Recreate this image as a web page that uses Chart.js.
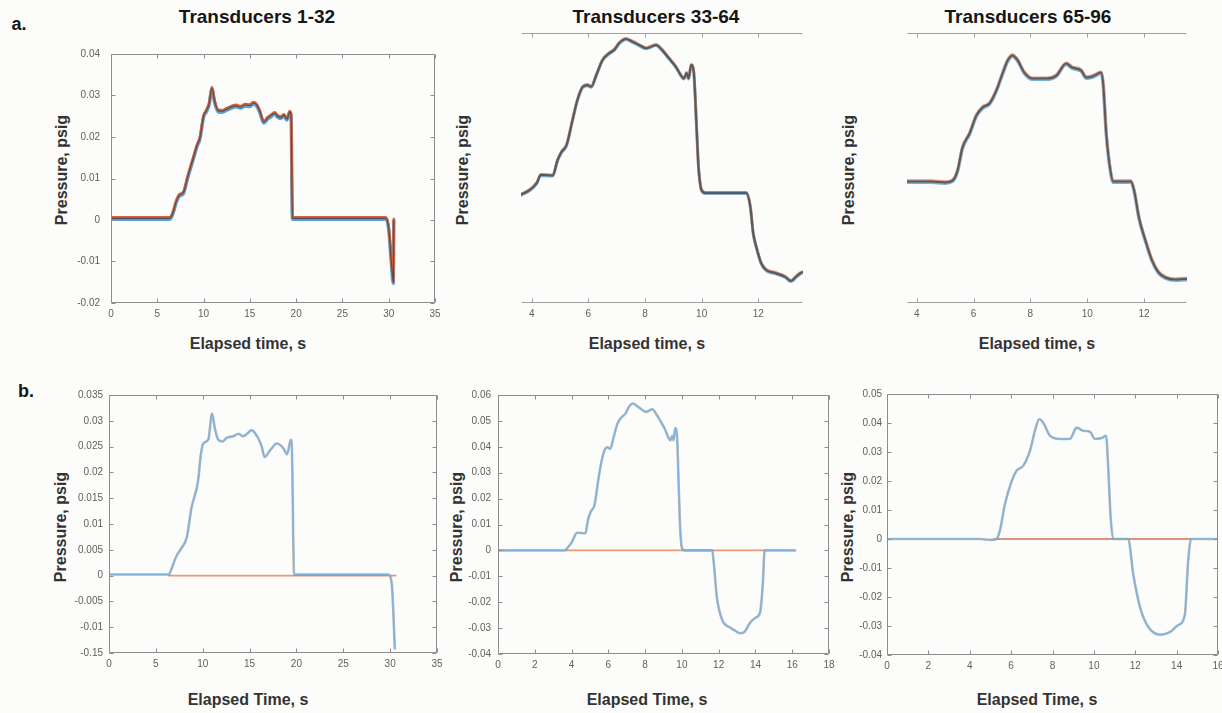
<!DOCTYPE html>
<html lang="en">
<head>
<meta charset="UTF-8">
<title>Transducer pressure traces</title>
<script src="https://cdn.jsdelivr.net/npm/chart.js"></script>
<style>
  html, body { margin: 0; padding: 0; width: 1222px; height: 713px; overflow: hidden; background: #fcfcfa; }
  body { position: relative; font-family: "Liberation Sans", Arial, Helvetica, sans-serif; }
  canvas { position: absolute; }
  .lbl { position: absolute; transform: translate(-50%, -50%); white-space: nowrap; font-weight: bold; color: #333; font-size: 16px; }
  .lbl.rot { transform: translate(-50%, -50%) rotate(-90deg); }
  .ttl { font-size: 19px; color: #161616; }
  .tag { font-size: 18px; color: #161616; }
</style>
</head>
<body>
  <!-- panel letters and titles -->
  <div class="lbl tag" style="left:19px;top:24px">a.</div>
  <div class="lbl tag" style="left:26px;top:391px">b.</div>
  <div class="lbl ttl" style="left:257px;top:17px">Transducers 1-32</div>
  <div class="lbl ttl" style="left:656px;top:17px">Transducers 33-64</div>
  <div class="lbl ttl" style="left:1028px;top:17px">Transducers 65-96</div>

  <!-- axis titles -->
  <div class="lbl rot" style="left:62px;top:170px">Pressure, psig</div>
  <div class="lbl rot" style="left:463px;top:170px">Pressure, psig</div>
  <div class="lbl rot" style="left:849px;top:170px">Pressure, psig</div>
  <div class="lbl rot" style="left:61px;top:527px">Pressure, psig</div>
  <div class="lbl rot" style="left:457px;top:527px">Pressure, psig</div>
  <div class="lbl rot" style="left:848px;top:527px">Pressure, psig</div>
  <div class="lbl" style="left:248px;top:344px">Elapsed time, s</div>
  <div class="lbl" style="left:647px;top:344px">Elapsed time, s</div>
  <div class="lbl" style="left:1037px;top:344px">Elapsed time, s</div>
  <div class="lbl" style="left:248px;top:700px">Elapsed Time, s</div>
  <div class="lbl" style="left:647px;top:700px">Elapsed Time, s</div>
  <div class="lbl" style="left:1037px;top:700px">Elapsed Time, s</div>

<script>
// ---- a. raw traces ----
const a1Time = [0, 3, 6.3, 6.6, 7.1, 7.4, 7.8, 8.3, 8.9, 9.3, 9.6, 10.0, 10.3, 10.6, 10.9, 11.2, 11.6, 12.0, 12.5, 13.0, 13.5, 14.0, 14.5, 15.0, 15.4, 15.8, 16.1, 16.5, 16.9, 17.2, 17.7, 18.0, 18.3, 18.7, 19.0, 19.3, 19.45, 19.6, 25, 29.7, 30.0, 30.3, 30.5, 30.55];
const a1Pressure = [0.0004, 0.0004, 0.0004, 0.0012, 0.0048, 0.006, 0.0065, 0.0105, 0.015, 0.018, 0.0197, 0.025, 0.0263, 0.028, 0.0318, 0.0285, 0.0263, 0.0262, 0.0267, 0.0272, 0.0275, 0.0272, 0.0277, 0.0276, 0.0282, 0.0275, 0.026, 0.0236, 0.0245, 0.025, 0.0257, 0.025, 0.0247, 0.0252, 0.0243, 0.026, 0.0255, 0.0004, 0.0004, 0.0004, -0.002, -0.0105, -0.015, 0];

const a2Time = [3.61, 3.93, 4.18, 4.32, 4.74, 4.91, 5.05, 5.23, 5.44, 5.61, 5.79, 5.96, 6.1, 6.28, 6.5, 6.74, 6.91, 7.09, 7.33, 7.54, 7.79, 8.04, 8.39, 8.6, 8.84, 9.09, 9.26, 9.37, 9.47, 9.54, 9.63, 9.72, 9.83, 9.89, 10.0, 10.14, 11.58, 11.72, 11.82, 11.93, 12.1, 12.28, 12.6, 12.95, 13.16, 13.33, 13.5, 13.6];
const a2Pressure = [-0.0007, 0.0011, 0.0037, 0.0066, 0.0064, 0.012, 0.015, 0.0176, 0.0268, 0.034, 0.0388, 0.0396, 0.039, 0.0433, 0.0488, 0.0513, 0.0525, 0.055, 0.0565, 0.0556, 0.0543, 0.0531, 0.0543, 0.0525, 0.0495, 0.0463, 0.0433, 0.042, 0.044, 0.042, 0.047, 0.0445, 0.022, 0.0095, 0.001, 0, 0, -0.005, -0.0147, -0.0198, -0.0257, -0.0283, -0.0294, -0.0308, -0.0323, -0.0308, -0.0294, -0.029];

const a3Time = [3.65, 4.5, 5.0, 5.26, 5.44, 5.61, 5.86, 6.1, 6.32, 6.56, 6.8, 7.02, 7.2, 7.37, 7.54, 7.79, 8.07, 8.56, 8.91, 9.26, 9.47, 9.79, 9.96, 10.18, 10.49, 10.56, 10.67, 10.8, 10.91, 11.54, 11.65, 11.82, 12.05, 12.28, 12.51, 12.75, 13.1, 13.45, 13.55];
const a3Pressure = [0, 0, -0.0003, 0.0003, 0.0037, 0.0113, 0.016, 0.022, 0.0247, 0.026, 0.0303, 0.036, 0.0403, 0.042, 0.0406, 0.0363, 0.0343, 0.0343, 0.0353, 0.0393, 0.038, 0.037, 0.0347, 0.035, 0.0363, 0.0327, 0.016, 0.0047, 0, 0, -0.003, -0.012, -0.0197, -0.0263, -0.0303, -0.032, -0.0327, -0.0325, -0.0325];

// ---- b. baseline corrected ----
const b1Time = [0, 6.4, 6.6, 7.2, 7.76, 8.3, 8.8, 9.5, 9.8, 10.06, 10.6, 11.0, 11.3, 11.67, 12.1, 12.56, 13.27, 13.8, 14.3, 14.8, 15.2, 15.9, 16.3, 16.6, 17.2, 17.9, 18.6, 19.0, 19.4, 19.5, 19.75, 25, 29.8, 30.17, 30.5];
const b1Pressure = [0.0002, 0.0002, 0.001, 0.0038, 0.0054, 0.0074, 0.0131, 0.0183, 0.0235, 0.0256, 0.0264, 0.0314, 0.0285, 0.0263, 0.026, 0.0267, 0.027, 0.0275, 0.027, 0.0276, 0.0282, 0.0267, 0.025, 0.023, 0.0243, 0.0256, 0.0247, 0.0235, 0.0263, 0.0255, 0.0002, 0.0002, 0.0002, -0.0016, -0.0141];
const b1RefTime = [6.4, 30.6];
const b1RefPressure = [0, 0];

const b2Time = [0, 3.6, 3.75, 4.0, 4.3, 4.75, 4.9, 5.05, 5.25, 5.45, 5.62, 5.8, 5.96, 6.1, 6.28, 6.5, 6.74, 6.95, 7.1, 7.35, 7.55, 7.8, 8.05, 8.4, 8.6, 8.85, 9.1, 9.27, 9.37, 9.48, 9.55, 9.64, 9.73, 9.84, 9.9, 10.0, 10.15, 11.65, 11.75, 11.9, 12.2, 12.6, 12.9, 13.15, 13.4, 13.7, 14.0, 14.25, 14.4, 14.5, 16.15];
const b2Pressure = [0, 0, 0.0008, 0.003, 0.0068, 0.0066, 0.012, 0.015, 0.0176, 0.027, 0.034, 0.0388, 0.0398, 0.0392, 0.0435, 0.049, 0.0515, 0.053, 0.0552, 0.0567, 0.0558, 0.0545, 0.0535, 0.0545, 0.0527, 0.0497, 0.0465, 0.0435, 0.0425, 0.0442, 0.0425, 0.0472, 0.0447, 0.022, 0.0095, 0.001, 0, 0, -0.006, -0.018, -0.027, -0.0297, -0.031, -0.032, -0.0315, -0.028, -0.026, -0.024, -0.013, 0, 0];
const b2RefTime = [3.65, 14.55];
const b2RefPressure = [0, 0];

const b3Time = [0, 4.5, 5.0, 5.3, 5.46, 5.7, 6.03, 6.27, 6.59, 6.91, 7.15, 7.36, 7.56, 7.88, 8.36, 8.84, 9.17, 9.49, 9.81, 10.05, 10.38, 10.59, 10.7, 10.81, 10.94, 11.66, 11.9, 12.23, 12.6, 13.2, 13.7, 14.07, 14.4, 14.55, 14.7, 16];
const b3Pressure = [0, 0, -0.0003, 0, 0.003, 0.012, 0.02, 0.0236, 0.0253, 0.0304, 0.0373, 0.0413, 0.04, 0.0356, 0.0345, 0.0345, 0.0384, 0.0373, 0.037, 0.0345, 0.0348, 0.0356, 0.0236, 0.0075, 0, 0, -0.012, -0.0235, -0.03, -0.033, -0.032, -0.0297, -0.026, -0.0084, 0, 0];
const b3RefTime = [5.2, 14.7];
const b3RefPressure = [0, 0];

// ---- ticks ----
const a1XTicks = [0, 5, 10, 15, 20, 25, 30, 35];
const a1XLabels = ['0', '5', '10', '15', '20', '25', '30', '35'];
const a1YTicks = [-0.02, -0.01, 0, 0.01, 0.02, 0.03, 0.04];
const a1YLabels = ['-0.02', '-0.01', '0', '0.01', '0.02', '0.03', '0.04'];
const aZoomXTicks = [4, 6, 8, 10, 12];
const aZoomXLabels = ['4', '6', '8', '10', '12'];
const b1XTicks = [0, 5, 10, 15, 20, 25, 30, 35];
const b1XLabels = ['0', '5', '10', '15', '20', '25', '30', '35'];
const b1YTicks = [-0.015, -0.01, -0.005, 0, 0.005, 0.01, 0.015, 0.02, 0.025, 0.03, 0.035];
const b1YLabels = ['-0.15', '-0.01', '-0.005', '0', '0.005', '0.01', '0.015', '0.02', '0.025', '0.03', '0.035'];
const b2XTicks = [0, 2, 4, 6, 8, 10, 12, 14, 16, 18];
const b2XLabels = ['0', '2', '4', '6', '8', '10', '12', '14', '16', '18'];
const b2YTicks = [-0.04, -0.03, -0.02, -0.01, 0, 0.01, 0.02, 0.03, 0.04, 0.05, 0.06];
const b2YLabels = ['-0.04', '-0.03', '-0.02', '-0.01', '0', '0.01', '0.02', '0.03', '0.04', '0.05', '0.06'];
const b3XTicks = [0, 2, 4, 6, 8, 10, 12, 14, 16];
const b3XLabels = ['0', '2', '4', '6', '8', '10', '12', '14', '16'];
const b3YTicks = [-0.04, -0.03, -0.02, -0.01, 0, 0.01, 0.02, 0.03, 0.04, 0.05];
const b3YLabels = ['-0.04', '-0.03', '-0.02', '-0.01', '0', '0.01', '0.02', '0.03', '0.04', '0.05'];

const Y_W = 60, X_H = 30, PAD_T = 10, PAD_R = 20;
const TICK_FONT = { family: '"Liberation Sans", Arial, Helvetica, sans-serif', size: 10 };

function pts(xs, ys) {
  return xs.map((x, i) => ({ x: x, y: ys[i] }));
}

// matlab-ish box with inward ticks, plus a small vertical nudge per dataset
const matlabBox = {
  id: 'matlabBox',
  beforeDatasetDraw(chart, args) {
    const ds = chart.data.datasets[args.index];
    if (ds.shiftY) { chart.ctx.save(); chart.ctx.translate(0, ds.shiftY); }
  },
  afterDatasetDraw(chart, args) {
    const ds = chart.data.datasets[args.index];
    if (ds.shiftY) chart.ctx.restore();
  },
  afterDraw(chart, args, opts) {
    const { ctx, chartArea: a, scales } = chart;
    const L = Math.round(a.left) + 0.5, R = Math.round(a.right) - 0.5;
    const T = Math.round(a.top) + 0.5, B = Math.round(a.bottom) - 0.5;
    ctx.save();
    ctx.strokeStyle = opts.color || '#8c8c8c';
    ctx.lineWidth = 1;
    ctx.beginPath();
    ctx.moveTo(L, T); ctx.lineTo(R, T);
    ctx.moveTo(L, B); ctx.lineTo(R, B);
    if (opts.sides) {
      ctx.moveTo(L, T); ctx.lineTo(L, B);
      ctx.moveTo(R, T); ctx.lineTo(R, B);
    }
    scales.x.ticks.forEach(t => {
      const px = Math.round(scales.x.getPixelForValue(t.value)) + 0.5;
      if (px < L - 1 || px > R + 1) return;
      ctx.moveTo(px, B); ctx.lineTo(px, B - 4);
      ctx.moveTo(px, T); ctx.lineTo(px, T + 4);
    });
    if (opts.sides) {
      scales.y.ticks.forEach(t => {
        const py = Math.round(scales.y.getPixelForValue(t.value)) + 0.5;
        ctx.moveTo(L, py); ctx.lineTo(L + 4, py);
        ctx.moveTo(R, py); ctx.lineTo(R - 4, py);
      });
    }
    ctx.stroke();
    ctx.restore();
  }
};

function makePanel(frame, datasets, ax) {
  const cv = document.createElement('canvas');
  const w = frame.right - frame.left + Y_W + PAD_R;
  const h = frame.bottom - frame.top + PAD_T + X_H;
  cv.width = w; cv.height = h;
  cv.style.left = (frame.left - Y_W) + 'px';
  cv.style.top = (frame.top - PAD_T) + 'px';
  document.body.appendChild(cv);

  new Chart(cv.getContext('2d'), {
    type: 'line',
    data: { datasets: datasets },
    plugins: [matlabBox],
    options: {
      responsive: false,
      animation: false,
      devicePixelRatio: 1,
      layout: { padding: { left: 0, top: PAD_T, right: PAD_R, bottom: 0 } },
      elements: { point: { radius: 0 }, line: { cubicInterpolationMode: 'monotone', borderJoinStyle: 'round', borderCapStyle: 'round' } },
      plugins: {
        legend: { display: false },
        tooltip: { enabled: false },
        matlabBox: { sides: ax.sides, color: ax.boxColor }
      },
      scales: {
        x: {
          type: 'linear', min: ax.xMin, max: ax.xMax,
          grid: { display: false, drawTicks: false },
          border: { display: false },
          afterBuildTicks: s => { s.ticks = ax.xTicks.map(v => ({ value: v })); },
          afterFit: s => { s.height = X_H; },
          ticks: {
            autoSkip: false, maxRotation: 0, padding: 5, color: '#606060', font: TICK_FONT,
            callback: (v, i) => ax.xLabels[i]
          }
        },
        y: {
          type: 'linear', min: ax.yMin, max: ax.yMax,
          grid: { display: false, drawTicks: false },
          border: { display: false },
          afterBuildTicks: s => { s.ticks = ax.yTicks.map(v => ({ value: v })); },
          afterFit: s => { s.width = Y_W; },
          ticks: {
            display: ax.yLabels.length > 0, autoSkip: false, padding: ax.yPad, color: '#606060', font: TICK_FONT,
            callback: (v, i) => ax.yLabels[i]
          }
        }
      }
    }
  });
}

// a-panels: many overlapping transducer traces, drawn as a coloured band
function bandSets(xs, ys, st) {
  const data = pts(xs, ys);
  return [
    { data: data, borderColor: st.dark, borderWidth: st.darkW },
    { data: data, borderColor: st.red, borderWidth: st.redW, shiftY: -st.shift },
    { data: data, borderColor: st.blue, borderWidth: st.blueW, shiftY: st.shift }
  ];
}

// b-panels: averaged trace (blue) with noisy members under it, and the zero reference (orange)
function meanSets(xs, ys, rx, ry, refColor, refW) {
  const data = pts(xs, ys);
  return [
    { data: data, borderColor: '#82b3de', borderWidth: 1.6 },
    { data: data, borderColor: 'rgba(95,95,85,0.4)', borderWidth: 2.6 },
    { data: pts(rx, ry), borderColor: refColor, borderWidth: refW }
  ];
}

makePanel({ left: 111, top: 47, right: 435, bottom: 303 },
  bandSets(a1Time, a1Pressure, { dark: '#505050', darkW: 1.1, red: '#d5603c', redW: 2.6, blue: '#55a0d4', blueW: 3.4, shift: 1 }),
  { xMin: 0, xMax: 35, yMin: -0.02, yMax: 0.04, xTicks: a1XTicks, xLabels: a1XLabels,
    yTicks: a1YTicks, yLabels: a1YLabels, yPad: 11, sides: true });

makePanel({ left: 521, top: 33, right: 803, bottom: 303 },
  bandSets(a2Time, a2Pressure, { dark: '#575b60', darkW: 2.2, red: '#dc9677', redW: 2.8, blue: '#7aaed6', blueW: 3, shift: 0.6 }),
  { xMin: 3.62, xMax: 13.58, yMin: -0.0404, yMax: 0.0587, xTicks: aZoomXTicks, xLabels: aZoomXLabels,
    yTicks: [], yLabels: [], yPad: 6, sides: false, boxColor: '#a0a0a0' });

makePanel({ left: 907, top: 33, right: 1187, bottom: 303 },
  bandSets(a3Time, a3Pressure, { dark: '#575b60', darkW: 2, red: '#dc9677', redW: 2.8, blue: '#7aaed6', blueW: 3.4, shift: 0.8 }),
  { xMin: 3.66, xMax: 13.51, yMin: -0.0405, yMax: 0.0495, xTicks: aZoomXTicks, xLabels: aZoomXLabels,
    yTicks: [], yLabels: [], yPad: 6, sides: false, boxColor: '#a0a0a0' });

makePanel({ left: 109, top: 393, right: 437, bottom: 653 },
  meanSets(b1Time, b1Pressure, b1RefTime, b1RefPressure, '#e59a74', 1.8),
  { xMin: 0, xMax: 35, yMin: -0.015, yMax: 0.035, xTicks: b1XTicks, xLabels: b1XLabels,
    yTicks: b1YTicks, yLabels: b1YLabels, yPad: 6, sides: true });

makePanel({ left: 498, top: 392, right: 829, bottom: 654 },
  meanSets(b2Time, b2Pressure, b2RefTime, b2RefPressure, '#e59a74', 1.8),
  { xMin: 0, xMax: 18, yMin: -0.04, yMax: 0.06, xTicks: b2XTicks, xLabels: b2XLabels,
    yTicks: b2YTicks, yLabels: b2YLabels, yPad: 7, sides: true });

makePanel({ left: 887, top: 393, right: 1218, bottom: 655 },
  meanSets(b3Time, b3Pressure, b3RefTime, b3RefPressure, '#d4704f', 1.3),
  { xMin: 0, xMax: 16, yMin: -0.04, yMax: 0.05, xTicks: b3XTicks, xLabels: b3XLabels,
    yTicks: b3YTicks, yLabels: b3YLabels, yPad: 5, sides: true });
</script>
</body>
</html>
